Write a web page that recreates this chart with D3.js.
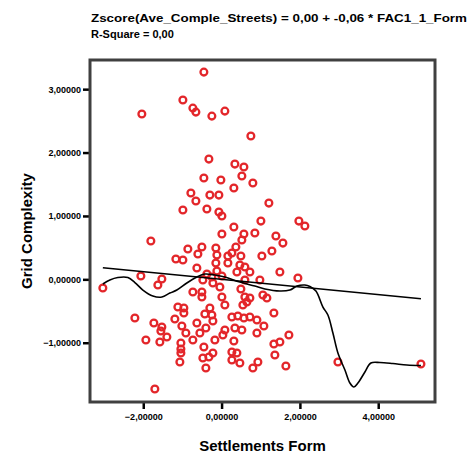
<!DOCTYPE html>
<html lang="en">
<head>
<meta charset="UTF-8">
<script src="https://cdnjs.cloudflare.com/ajax/libs/d3/7.8.5/d3.min.js"></script>
<style>
    body { margin: 0; background: #fff; }
    text { font-family: Arial, "Liberation Sans", sans-serif; font-weight: bold; fill: #000; }
</style>
<title>Grid Complexity vs Settlements Form</title>
</head>
<body>
<svg id="chart" width="473" height="455"></svg>
<script>
    // scatter points: x = FAC1_1_Form, y = Zscore
    var formX = [-0.452, -0.988, -0.733, -0.656, -2.036, -0.248, 0.084, 0.748, -0.324, 0.340,
        0.570, -0.452, -0.018, 0.518, 0.799, 0.314, -0.784, -0.656, -0.299, -0.069,
        1.208, -0.988, -0.375, -0.069, 0.008, 1.004, 1.974, 2.127, 0.314, 0.008,
        0.570, 0.850, 1.387, 1.566, 0.518, -1.806, -0.861, -0.503, -0.605, -0.146,
        -0.120, 0.365, 0.263, 0.493, 1.285, 1.029, -1.167, -0.988, 0.161, 0.161,
        -0.146, 0.467, 0.595, -0.631, -0.120, 0.391, 0.723, 1.489, 1.949, -2.061,
        -1.525, -1.627, -0.478, -0.248, -0.222, 0.008, -0.043, -0.375, 0.595, 0.978,
        -3.032, -0.733, -0.503, -0.503, 0.493, 0.008, 0.084, 0.595, 0.646, 0.544,
        1.055, 1.157, 0.723, 1.336, -2.214, -1.729, -1.116, -0.963, -0.963, -1.193,
        -0.299, -0.427, -0.248, -0.222, -0.631, 0.263, 0.416, 0.570, 0.723, 0.902,
        1.080, -1.014, -1.525, -1.550, -1.397, -1.576, -1.933, -0.912, -0.733, -1.039,
        -1.039, -1.039, -1.065, -0.554, -0.401, 0.084, 0.033, 0.340, 0.518, -0.171,
        0.314, 0.902, -0.452, -0.222, -0.478, -0.324, 0.263, 0.391, 0.263, 0.467,
        -0.401, 0.799, 0.927, 1.336, 1.489, 1.719, 1.361, 1.642, -1.704, 2.971,
        5.091];
    var zscoreY = [3.269, 2.828, 2.701, 2.638, 2.607, 2.575, 2.654, 2.260, 1.897, 1.818,
        1.771, 1.598, 1.566, 1.629, 1.519, 1.440, 1.361, 1.235, 1.329, 1.329,
        1.203, 1.093, 1.109, 1.061, 0.998, 0.919, 0.919, 0.841, 0.825, 0.714,
        0.714, 0.730, 0.683, 0.572, 0.620, 0.604, 0.478, 0.509, 0.399, 0.494,
        0.383, 0.509, 0.415, 0.367, 0.446, 0.367, 0.320, 0.304, 0.367, 0.257,
        0.257, 0.226, 0.194, 0.178, 0.131, 0.115, 0.115, 0.115, 0.020, 0.052,
        0.005, -0.090, -0.011, 0.036, -0.058, 0.052, -0.121, 0.084, -0.011, -0.011,
        -0.137, -0.200, -0.200, -0.279, -0.153, -0.279, -0.405, -0.279, -0.358, -0.405,
        -0.248, -0.295, -0.295, -0.531, -0.610, -0.689, -0.437, -0.453, -0.531, -0.626,
        -0.453, -0.547, -0.563, -0.658, -0.689, -0.595, -0.579, -0.610, -0.595, -0.642,
        -0.736, -0.736, -0.752, -0.815, -0.910, -0.989, -0.957, -0.847, -0.957, -1.004,
        -1.099, -1.162, -1.304, -0.847, -0.768, -0.800, -0.878, -0.768, -0.800, -0.957,
        -0.973, -0.847, -1.068, -1.162, -1.241, -1.226, -1.147, -1.162, -1.273, -1.320,
        -1.399, -1.399, -1.304, -1.020, -0.989, -0.878, -1.194, -1.368, -1.730, -1.304,
        -1.336];

    // loess-like smoother
    var loessX = [-3.032, -2.853, -2.649, -2.393, -2.214, -2.010, -1.755, -1.525, -1.321, -1.142,
        -0.887, -0.631, -0.427, -0.171, 0.084, 0.467, 0.851, 1.106, 1.489, 1.745,
        1.923, 2.127, 2.255, 2.409, 2.588, 2.715, 2.843, 2.971, 3.150, 3.277,
        3.379, 3.482, 3.660, 3.813, 4.043, 4.375, 4.733, 5.091];
    var loessY = [-0.074, -0.011, 0.028, 0.028, -0.050, -0.169, -0.263, -0.279, -0.216, -0.169,
        -0.058, 0.036, 0.084, 0.068, 0.036, -0.043, -0.106, -0.153, -0.185, -0.169,
        -0.106, -0.090, -0.114, -0.185, -0.437, -0.563, -0.847, -1.162, -1.431, -1.636,
        -1.699, -1.636, -1.462, -1.320, -1.312, -1.328, -1.352, -1.360];

    // linear fit: y = 0,00 + -0,06 * x
    var fitIntercept = 0.0;
    var fitSlope = -0.06;

    var xTicks = [-2, 0, 2, 4];
    var yTicks = [-1, 0, 1, 2, 3];

    var fmt = function(v) { return d3.format('.5f')(v).replace('.', ','); };

    var svg = d3.select('#chart');
    var plot = { left: 90, top: 60, right: 435, bottom: 402 };

    var x = d3.scaleLinear().domain([-3.36, 5.45]).range([plot.left, plot.right]);
    var y = d3.scaleLinear().domain([-1.935, 3.46]).range([plot.bottom, plot.top]);

    // title
    svg.append('text').attr('x', 91).attr('y', 22).style('font-size', '11px')
        .attr('textLength', 376).attr('lengthAdjust', 'spacingAndGlyphs')
        .text('Zscore(Ave_Comple_Streets) = 0,00 + -0,06 * FAC1_1_Form');
    svg.append('text').attr('x', 91).attr('y', 38).style('font-size', '11px')
        .text('R-Square = 0,00');

    // axes
    var yAxis = d3.axisLeft(y).tickValues(yTicks).tickFormat(fmt).tickSize(7).tickPadding(2);
    var xAxis = d3.axisBottom(x).tickValues(xTicks).tickFormat(fmt).tickSize(7).tickPadding(5);

    var gy = svg.append('g').attr('transform', 'translate(' + plot.left + ',0)').call(yAxis);
    var gx = svg.append('g').attr('transform', 'translate(0,' + plot.bottom + ')').call(xAxis);
    [gx, gy].forEach(function(g) {
        g.select('.domain').remove();
        g.selectAll('.tick line').attr('stroke', '#000').attr('stroke-width', 2.5);
        g.selectAll('.tick text').style('font-size', '9px')
            .style('font-family', 'Arial, "Liberation Sans", sans-serif');
    });

    // frame
    svg.append('rect')
        .attr('x', plot.left).attr('y', plot.top)
        .attr('width', plot.right - plot.left).attr('height', plot.bottom - plot.top)
        .attr('fill', 'none').attr('stroke', '#404040').attr('stroke-width', 3);

    // axis titles
    svg.append('text')
        .attr('transform', 'translate(32,' + (plot.top + plot.bottom) / 2 + ') rotate(-90)')
        .attr('text-anchor', 'middle').style('font-size', '15px')
        .text('Grid Complexity');
    svg.append('text')
        .attr('x', (plot.left + plot.right) / 2).attr('y', 451)
        .attr('text-anchor', 'middle').style('font-size', '15px')
        .text('Settlements Form');

    // points
    var points = formX.map(function(v, i) { return { x: v, y: zscoreY[i] }; });
    svg.append('g').selectAll('circle')
        .data(points)
        .enter().append('circle')
        .attr('cx', function(d) { return x(d.x); })
        .attr('cy', function(d) { return y(d.y); })
        .attr('r', 3.4)
        .attr('fill', 'none')
        .attr('stroke', '#e3262a')
        .attr('stroke-width', 2.3);

    // linear fit line over data range
    var xExt = d3.extent(formX);
    var line = d3.line().x(function(d) { return x(d[0]); }).y(function(d) { return y(d[1]); });
    svg.append('path')
        .datum(xExt.map(function(v) { return [v, fitIntercept + fitSlope * v]; }))
        .attr('d', line)
        .attr('fill', 'none').attr('stroke', '#000').attr('stroke-width', 1.6);

    // smoother
    svg.append('path')
        .datum(loessX.map(function(v, i) { return [v, loessY[i]]; }))
        .attr('d', line.curve(d3.curveCatmullRom))
        .attr('fill', 'none').attr('stroke', '#000').attr('stroke-width', 1.6);
</script>
</body>
</html>
